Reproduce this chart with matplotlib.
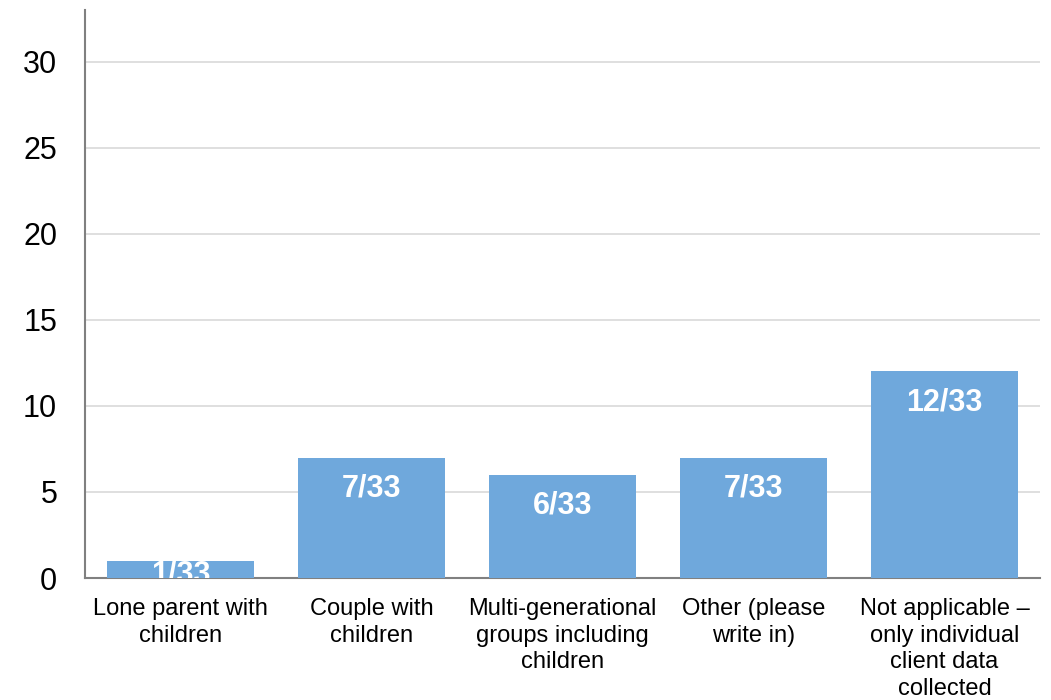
import matplotlib.pyplot as plt

plt.rcParams['font.family'] = ['Liberation Sans', 'DejaVu Sans']

categories = [
    "Lone parent with\nchildren",
    "Couple with\nchildren",
    "Multi-generational\ngroups including\nchildren",
    "Other (please\nwrite in)",
    "Not applicable \u2013\nonly individual\nclient data\ncollected",
]
counts = [1, 7, 6, 7, 12]
labels = ["1/33", "7/33", "6/33", "7/33", "12/33"]
yticks = [0, 5, 10, 15, 20, 25, 30]

fig = plt.figure(figsize=(10.51, 7), dpi=100)
ax = fig.add_axes([85 / 1051, 122 / 700, 955 / 1051, 568 / 700])

x = range(len(categories))
bars = ax.bar(x, counts, width=0.765, color="#6FA8DC", zorder=3)

ax.set_xlim(-0.5, len(categories) - 0.5)
ax.set_ylim(0, 33)

# label sits ~31px under the bar top, closer for very short bars
for b, lab in zip(bars, labels):
    cx = b.get_x() + b.get_width() / 2
    top_px = ax.transData.transform((cx, b.get_height()))[1]
    base_px = ax.transData.transform((cx, 0))[1]
    off_px = min(31, 0.8 * (top_px - base_px))
    ax.annotate(lab, (cx, b.get_height()),
                xytext=(0, -off_px * 72 / fig.dpi), textcoords="offset points",
                ha="center", va="center", color="white",
                fontsize=22, fontweight="bold", clip_on=True, zorder=4)

ax.set_yticks(yticks)
ax.set_xticks(list(x))
ax.set_xticklabels(categories, fontsize=17, linespacing=1.27)
ax.tick_params(axis="y", labelsize=22, length=0, pad=20)
ax.tick_params(axis="x", length=0, pad=14.5)
ax.grid(axis="y", color="#D9D9D9", linewidth=1.2, zorder=0)

for s in ["top", "right"]:
    ax.spines[s].set_visible(False)
for s in ["left", "bottom"]:
    ax.spines[s].set_color("#808080")
    ax.spines[s].set_linewidth(1.5)

fig.savefig("out.png", dpi=100)
